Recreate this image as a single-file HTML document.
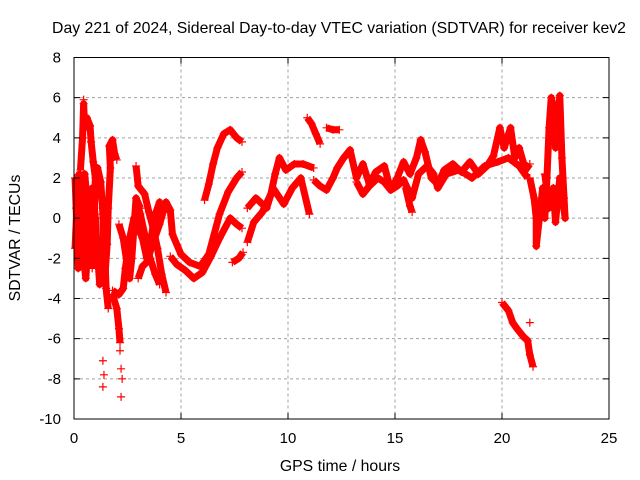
<!DOCTYPE html>
<html><head><meta charset="utf-8"><style>
body{margin:0;background:#fff}
svg{display:block;font-family:"Liberation Sans",sans-serif}
</style></head><body>
<svg id="chart" width="640" height="480" viewBox="0 0 640 480" xmlns="http://www.w3.org/2000/svg">
<rect width="640" height="480" fill="#fff"/>
<text x="339" y="33" font-size="15.8" text-anchor="middle">Day 221 of 2024, Sidereal Day-to-day VTEC variation (SDTVAR) for receiver kev2</text>
<text transform="translate(20,238) rotate(-90)" font-size="15.8" text-anchor="middle">SDTVAR / TECUs</text>
<text x="340" y="471" font-size="15.8" text-anchor="middle">GPS time / hours</text>
<g id="grid"></g>
<g id="marks"></g>
<rect x="74" y="57.5" width="535" height="361.5" fill="none" stroke="#000" stroke-width="1"/>
<g id="ticks"></g>
</svg>
<script>
const xTicks=[0,5,10,15,20,25];
const yTicks=[-10,-8,-6,-4,-2,0,2,4,6,8];
const traceA=[[0.3,2.4],[0.4,4.0],[0.45,5.7],[0.5,4.5],[0.6,5.0],[0.75,4.6],[0.8,3.8],[0.9,2.8],[1.0,2.0],[0.95,0.5],[0.9,-1.0],[0.85,-2.5]];
const traceB=[[0.05,2.0],[0.1,0.5],[0.15,-1.0],[0.2,-2.5],[0.3,-1.5],[0.4,0.5],[0.5,2.2],[0.6,1.0],[0.7,-0.5],[0.8,-1.5],[0.9,-0.3],[1.0,1.5],[1.1,2.5],[1.25,1.8],[1.35,0.2],[1.4,-1.5],[1.45,-2.8],[1.55,-1.3],[1.6,0.5],[1.7,2.5],[1.65,3.6],[1.8,3.9],[1.9,3.2],[2.0,2.9]];
const traceC=[[0.05,-1.5],[0.15,1.0],[0.25,2.2],[0.35,0.0],[0.45,-2.0],[0.55,-3.0],[0.65,-1.5],[0.75,0.5],[0.85,1.5],[1.0,0.0],[1.1,-1.8],[1.2,-3.3],[1.3,-2.0],[1.4,-0.8],[1.5,-3.5],[1.6,-4.5]];
const traceD=[[1.8,-3.8],[2.0,-4.5],[2.1,-5.5],[2.15,-6.2]];
const traceE=[[1.8,-3.6],[2.1,-3.8],[2.3,-3.5],[2.4,-2.5],[2.6,-1.0],[2.8,0],[3.0,-0.5],[3.2,-1.0],[3.4,-2.0],[3.6,-1.0],[3.8,0.2],[4.0,0.8],[4.2,0.3]];
const traceF=[[2.1,-0.3],[2.3,-1.0],[2.5,-2.4],[2.6,-3.0],[2.7,-2.0],[2.9,1.0],[3.1,0.5]];
const traceG=[[2.9,2.6],[3.0,1.6],[3.3,1.2],[3.5,0.3],[3.7,-0.5],[3.9,-1.5],[4.1,-2.8],[4.3,-3.7]];
const traceH=[[2.9,1.0],[3.1,0.2],[3.3,-0.8],[3.5,-1.8],[3.8,-2.8],[4.0,-3.3]];
const traceI=[[3.0,-3.0],[3.2,-2.4],[3.4,-2.2],[3.7,-1.2],[4.0,-0.3],[4.3,0.8],[4.5,0.4],[4.6,-0.8],[5.0,-1.8],[5.4,-2.2],[5.9,-2.4],[6.3,-1.8],[6.8,0.2],[7.2,1.3],[7.6,2.0],[7.85,2.3]];
const traceJ=[[4.5,-1.9],[4.8,-2.3],[5.2,-2.6],[5.6,-3.0],[6.0,-2.7],[6.4,-1.9],[6.8,-1.0],[7.3,0.0],[7.6,-0.3],[7.85,-0.5]];
const traceK=[[6.1,0.9],[6.3,1.7],[6.5,2.7],[6.7,3.5],[7.0,4.2],[7.3,4.4],[7.6,4.0],[7.85,3.8]];
const traceL=[[7.4,-2.2],[7.7,-2.0],[7.9,-1.7]];
const traceM=[[8.1,-1.2],[8.4,-0.2],[8.8,0.3],[9.2,1.2],[9.4,2.2],[9.6,3.0],[9.9,2.4],[10.3,2.7],[10.7,2.7],[11.2,2.5]];
const traceN=[[8.1,0.5],[8.5,1.0],[9.0,0.5],[9.3,1.5],[9.8,0.7],[10.2,1.5],[10.6,2.0],[11.0,0.2]];
const traceO=[[10.9,5.0],[11.1,4.7],[11.3,4.2],[11.5,3.7]];
const traceP=[[11.8,4.5],[12.1,4.4],[12.4,4.4]];
const traceQ=[[11.2,1.9],[11.5,1.6],[11.8,1.4],[12.1,2.0],[12.3,2.5],[12.6,3.0],[12.9,3.4],[13.2,2.0],[13.5,2.7],[13.8,1.7],[14.1,2.3],[14.5,2.6],[14.8,1.4],[15.1,2.0],[15.4,2.8],[15.7,2.2],[16.0,3.0],[16.2,3.9],[16.4,3.3],[16.7,2.0],[17.0,1.7],[17.3,2.4],[17.7,2.7],[18.1,2.3],[18.5,2.8],[18.9,2.2],[19.3,2.6],[19.6,3.1],[19.9,4.5],[20.1,3.5],[20.4,4.5],[20.6,3.0],[20.8,3.5],[21.1,2.4],[21.3,2.7]];
const traceR=[[13.2,1.8],[13.5,1.2],[13.8,1.6],[14.2,2.0],[14.5,1.8],[14.8,1.4],[15.1,1.6],[15.4,1.9],[15.8,1.0],[16.1,2.2],[16.5,2.6],[16.8,2.2],[17.0,1.5],[17.4,2.2],[18.0,2.4],[18.6,2.0],[19.2,2.6],[19.8,2.8],[20.3,3.0],[20.8,2.6],[21.2,2.0]];
const traceS=[[15.5,1.5],[15.7,0.6],[15.8,0.3]];
const traceT=[[20.0,-4.2],[20.3,-4.6],[20.5,-5.2],[20.7,-5.5],[21.0,-5.9],[21.2,-6.1],[21.3,-6.8],[21.45,-7.4]];
const traceU=[[21.3,2.0],[21.5,1.0],[21.6,0.0],[21.6,-1.4],[21.8,0.5],[21.9,1.5],[22.0,0.0],[22.1,2.0],[22.2,4.5],[22.3,6.0],[22.4,5.5],[22.5,3.5],[22.6,5.0],[22.7,6.1],[22.8,3.0],[22.9,1.0],[22.95,0.0],[22.7,2.0],[22.5,-0.2],[22.4,1.5],[22.2,0.5],[22.0,2.2]];
const scattered=[[1.35,-7.1],[1.4,-7.8],[1.35,-8.4],[2.15,-6.6],[2.2,-7.5],[2.25,-8.0],[2.2,-8.9],[21.3,-5.2],[0.45,5.9],[1.6,-3.9]];

const traces=[traceA,traceB,traceC,traceD,traceE,traceF,traceG,traceH,traceI,traceJ,traceK,traceL,traceM,traceN,traceO,traceP,traceQ,traceR,traceS,traceT,traceU];
const NS='http://www.w3.org/2000/svg';
const X0=74,X1=609,Y0=419,Y1=57.5;
function xs(h){return X0+(h-0)/(25-0)*(X1-X0);}
function ys(v){return Y0-(v+10)/18*(Y0-Y1);}
const grid=document.getElementById('grid'),ticks=document.getElementById('ticks'),marks=document.getElementById('marks');
xTicks.forEach(t=>{
  const x=xs(t);
  if(t>0&&t<25){const l=document.createElementNS(NS,'line');
  
  
  l.setAttribute('x1',x);l.setAttribute('x2',x);l.setAttribute('y1',Y1);l.setAttribute('y2',Y0);
  l.setAttribute('stroke','#a0a0a0');l.setAttribute('stroke-dasharray','3,3');grid.appendChild(l);}
  const tk=document.createElementNS(NS,'path');
  
  
  tk.setAttribute('d',`M${x},${Y0}v-6M${x},${Y1}v6`);tk.setAttribute('stroke','#000');ticks.appendChild(tk);
  const tx=document.createElementNS(NS,'text');
  
  
  tx.setAttribute('x',x);tx.setAttribute('y',443);tx.setAttribute('font-size','15');tx.setAttribute('text-anchor','middle');
  tx.textContent=t;ticks.appendChild(tx);
});
yTicks.forEach(t=>{
  const y=ys(t);
  if(t>-10&&t<8){const l=document.createElementNS(NS,'line');
  
  
  l.setAttribute('x1',X0);l.setAttribute('x2',X1);l.setAttribute('y1',y);l.setAttribute('y2',y);
  l.setAttribute('stroke','#a0a0a0');l.setAttribute('stroke-dasharray','3,3');grid.appendChild(l);}
  const tk=document.createElementNS(NS,'path');
  
  
  tk.setAttribute('d',`M${X0},${y}h6M${X1},${y}h-6`);tk.setAttribute('stroke','#000');ticks.appendChild(tk);
  const tx=document.createElementNS(NS,'text');
  
  
  tx.setAttribute('x',61);tx.setAttribute('y',y+5);tx.setAttribute('font-size','15');tx.setAttribute('text-anchor','end');
  tx.textContent=t;ticks.appendChild(tx);
});
function plus(h,v){
  const p=document.createElementNS(NS,'path');
  
  
  const x=xs(h),y=ys(v);
  p.setAttribute('d',`M${x-4},${y}h8M${x},${y-4}v8`);p.setAttribute('stroke','#f00');p.setAttribute('stroke-width','1.2');
  marks.appendChild(p);
}
traces.forEach(tr=>{
  const pl=document.createElementNS(NS,'polyline');
  
  
  pl.setAttribute('points',tr.map(d=>xs(d[0])+','+ys(d[1])).join(' '));
  pl.setAttribute('fill','none');pl.setAttribute('stroke','#f00');pl.setAttribute('stroke-width','7');pl.setAttribute('stroke-linejoin','round');
  marks.appendChild(pl);
  tr.forEach(d=>plus(d[0],d[1]));
});
scattered.forEach(d=>plus(d[0],d[1]));
</script>
</body></html>
